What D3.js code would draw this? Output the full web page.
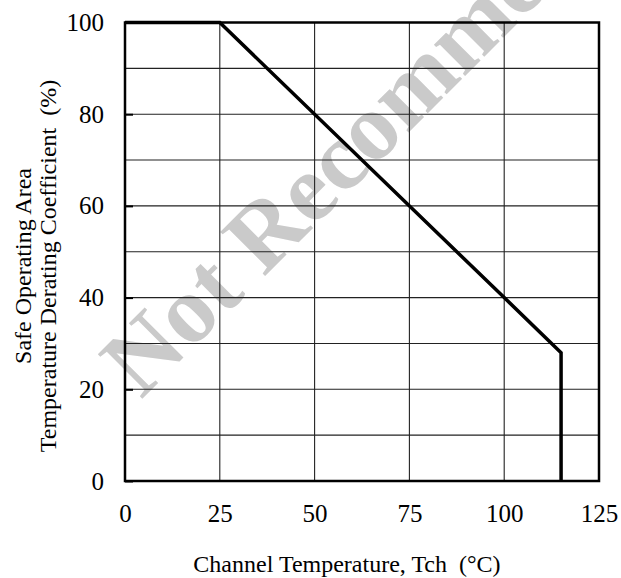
<!DOCTYPE html>
<html>
<head>
<meta charset="utf-8">
<script src="https://cdn.jsdelivr.net/npm/d3@7"></script>
<style>
	html, body { margin: 0; padding: 0; background: #fff; }
	svg { display: block; font-family: "Liberation Serif", "Times New Roman", serif; }
</style>
</head>
<body>
<svg id="chart" width="621" height="578"></svg>
<script>
// derating curve
var tempC	= [0, 25, 100, 115, 115];
var coeff	= [100, 100, 40, 28, 0];
var xTicks	= [0, 25, 50, 75, 100, 125];
var yTicks	= [0, 20, 40, 60, 80, 100];
var yGrid	= [0, 10, 20, 30, 40, 50, 60, 70, 80, 90, 100];
var xTitle	= "Channel Temperature, Tch\u00a0\u00a0(\u00b0C)";
var yTitle	= ["Safe Operating Area", "Temperature Derating Coefficient\u00a0\u00a0(%)"];
var stamp	= "Not Recommended";

var svg	= d3.select("#chart"),
	m	= {left: 125, right: 22, top: 22.5, bottom: 97},
	w	= +svg.attr("width") - m.left - m.right,
	h	= +svg.attr("height") - m.top - m.bottom;

var x	= d3.scaleLinear().domain([0, 125]).range([0, w]),
	y	= d3.scaleLinear().domain([0, 100]).range([h, 0]);

// watermark sits under the grid
svg.append("text")
	.attr("transform", "translate(141,400) rotate(-45)")
	.attr("fill", "#cacaca")
	.attr("font-weight", "bold")
	.attr("font-size", 96)
	.text(stamp);

var g	= svg.append("g").attr("transform", "translate(" + m.left + "," + m.top + ")");

var grid = g.append("g").attr("class", "grid");
grid.selectAll("line.h").data(yGrid).enter().append("line")
	.attr("class", "h")
	.attr("x1", 0).attr("x2", w)
	.attr("y1", y).attr("y2", y)
	.attr("stroke", "#222").attr("stroke-width", 1.1);
grid.selectAll("line.v").data(xTicks).enter().append("line")
	.attr("class", "v")
	.attr("x1", x).attr("x2", x)
	.attr("y1", 0).attr("y2", h)
	.attr("stroke", "#222").attr("stroke-width", 1.1);

// axes: labels only, frame drawn separately
function serifAxis(sel) {
	sel.attr("font-family", null).attr("font-size", null);
	sel.select(".domain").remove();
	sel.selectAll(".tick text").attr("font-size", 25).attr("fill", "#000");
}

var yAxis = g.append("g")
	.call(d3.axisLeft(y).tickValues(yTicks).tickSize(-8).tickPadding(21).tickFormat(d3.format("d")))
	.call(serifAxis);
yAxis.selectAll(".tick line").attr("stroke-width", 2);

g.append("g").attr("transform", "translate(0," + h + ")")
	.call(d3.axisBottom(x).tickValues(xTicks).tickSize(0).tickPadding(23).tickFormat(d3.format("d")))
	.call(serifAxis);

g.append("rect")
	.attr("width", w).attr("height", h)
	.attr("fill", "none").attr("stroke", "#000").attr("stroke-width", 2.5);

var line = d3.line()
	.x(function(d) { return x(d[0]); })
	.y(function(d) { return y(d[1]); });
g.append("path")
	.datum(d3.zip(tempC, coeff))
	.attr("d", line)
	.attr("fill", "none").attr("stroke", "#000").attr("stroke-width", 3.5)
	.attr("stroke-linejoin", "miter");

svg.append("text")
	.attr("x", 347).attr("y", 572)
	.attr("text-anchor", "middle").attr("font-size", 24)
	.text(xTitle);

svg.append("g").attr("transform", "translate(0,266) rotate(-90)")
	.selectAll("text").data(yTitle).enter().append("text")
	.attr("x", 0).attr("y", function(d, i) { return 31 + i * 25; })
	.attr("text-anchor", "middle")
	.attr("font-size", 24)
	.text(function(d) { return d; });
</script>
</body>
</html>
